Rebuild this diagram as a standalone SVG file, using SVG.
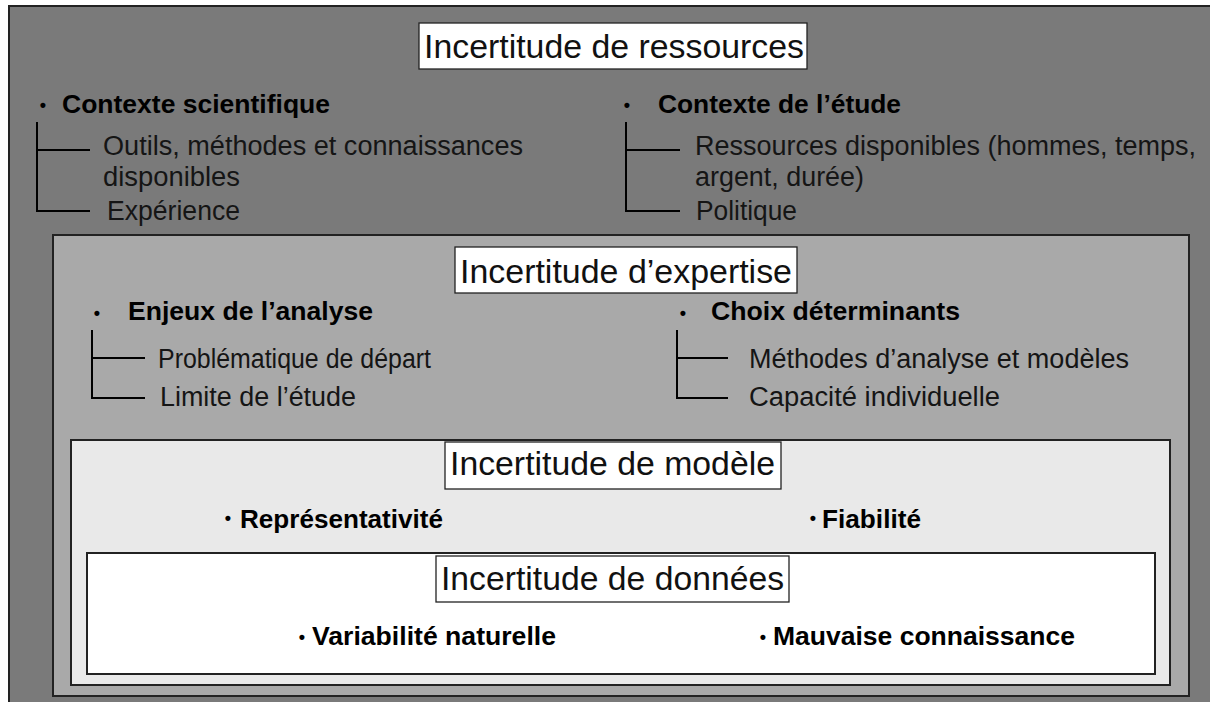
<svg xmlns="http://www.w3.org/2000/svg" width="1210" height="702" viewBox="0 0 1210 702">
<style>
.box{stroke:#222;stroke-width:2}
.tbox{fill:#fff;stroke:#222;stroke-width:1.3}
.title{font-family:"Liberation Sans",Arial,sans-serif;font-size:34px;fill:#111}
.head{font-family:"Liberation Sans",Arial,sans-serif;font-size:26.5px;font-weight:bold;fill:#000}
.sub{font-family:"Liberation Sans",Arial,sans-serif;font-size:27px;fill:#151515}
.bul{font-family:"Liberation Sans",Arial,sans-serif;font-size:18px;font-weight:bold;fill:#000;text-anchor:middle}
.tree{fill:none;stroke:#000;stroke-width:2}
</style>
<rect x="0" y="0" width="1210" height="702" fill="#fff"/>
<g id="ressources">
<rect class="box" x="9" y="6" width="1215" height="710" fill="#7a7a7a"/>
<rect class="tbox" x="419" y="23" width="388" height="46"/>
<text class="title" x="424" y="58" textLength="380" lengthAdjust="spacingAndGlyphs">Incertitude de ressources</text>
<text class="bul" x="43" y="111">•</text>
<text class="head" x="62" y="113" textLength="268" lengthAdjust="spacingAndGlyphs">Contexte scientifique</text>
<text class="sub" x="103" y="155" textLength="420" lengthAdjust="spacingAndGlyphs">Outils, méthodes et connaissances</text>
<text class="sub" x="103" y="186" textLength="137" lengthAdjust="spacingAndGlyphs">disponibles</text>
<text class="sub" x="107" y="220" textLength="133" lengthAdjust="spacingAndGlyphs">Expérience</text>
<text class="bul" x="627" y="111">•</text>
<text class="head" x="658" y="113" textLength="243" lengthAdjust="spacingAndGlyphs">Contexte de l’étude</text>
<text class="sub" x="695" y="155" textLength="501" lengthAdjust="spacingAndGlyphs">Ressources disponibles (hommes, temps,</text>
<text class="sub" x="695" y="186" textLength="169" lengthAdjust="spacingAndGlyphs">argent, durée)</text>
<text class="sub" x="696" y="220" textLength="101" lengthAdjust="spacingAndGlyphs">Politique</text>
</g>
<g id="expertise">
<rect class="box" x="53" y="235" width="1136" height="461" fill="#a9a9a9"/>
<rect class="tbox" x="455" y="247" width="342" height="46"/>
<text class="title" x="460" y="283" textLength="332" lengthAdjust="spacingAndGlyphs">Incertitude d’expertise</text>
<text class="bul" x="97" y="319">•</text>
<text class="head" x="128" y="320" textLength="245" lengthAdjust="spacingAndGlyphs">Enjeux de l’analyse</text>
<text class="sub" x="158" y="368" textLength="273" lengthAdjust="spacingAndGlyphs">Problématique de départ</text>
<text class="sub" x="160" y="406" textLength="196" lengthAdjust="spacingAndGlyphs">Limite de l’étude</text>
<text class="bul" x="683" y="319">•</text>
<text class="head" x="711" y="320" textLength="249" lengthAdjust="spacingAndGlyphs">Choix déterminants</text>
<text class="sub" x="749" y="368" textLength="380" lengthAdjust="spacingAndGlyphs">Méthodes d’analyse et modèles</text>
<text class="sub" x="749" y="406" textLength="251" lengthAdjust="spacingAndGlyphs">Capacité individuelle</text>
</g>
<g id="modele">
<rect class="box" x="71" y="440" width="1099" height="245" fill="#e9e9e9"/>
<rect class="tbox" x="445" y="442" width="336" height="47"/>
<text class="title" x="450" y="475" textLength="325" lengthAdjust="spacingAndGlyphs">Incertitude de modèle</text>
<text class="bul" x="228" y="524">•</text>
<text class="head" x="240" y="528" textLength="203" lengthAdjust="spacingAndGlyphs">Représentativité</text>
<text class="bul" x="813" y="524">•</text>
<text class="head" x="822" y="528" textLength="99" lengthAdjust="spacingAndGlyphs">Fiabilité</text>
</g>
<g id="donnees">
<rect class="box" x="87" y="553" width="1068" height="121" fill="#fff"/>
<rect class="tbox" x="436" y="556" width="353" height="46"/>
<text class="title" x="441" y="590" textLength="343" lengthAdjust="spacingAndGlyphs">Incertitude de données</text>
<text class="bul" x="302" y="643">•</text>
<text class="head" x="312" y="645" textLength="244" lengthAdjust="spacingAndGlyphs">Variabilité naturelle</text>
<text class="bul" x="763" y="643">•</text>
<text class="head" x="773" y="645" textLength="302" lengthAdjust="spacingAndGlyphs">Mauvaise connaissance</text>
</g>
<g id="connectors">
<path class="tree" d="M37 122 V211 H90 M37 150 H90"/>
<path class="tree" d="M626 122 V211 H680 M626 150 H680"/>
<path class="tree" d="M92 330 V398 H145 M92 358 H145"/>
<path class="tree" d="M677 330 V398 H728 M677 358 H728"/>
</g>
</svg>
